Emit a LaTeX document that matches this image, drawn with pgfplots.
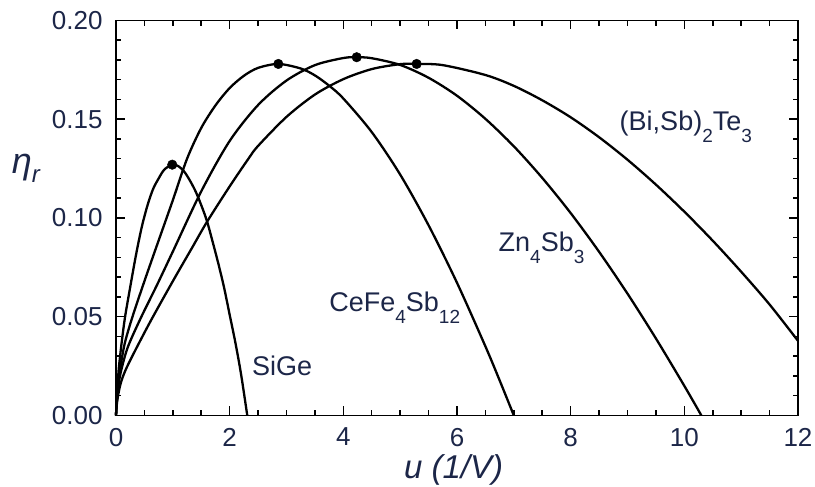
\documentclass[border=0pt]{standalone}
\usepackage{pgfplots}
\pgfplotsset{compat=1.18}
\usepackage{fontspec}
\setmainfont{Liberation Sans}
\definecolor{txt}{RGB}{28,38,72}
\newcommand{\lab}{\fontsize{27}{27}\selectfont}
\newcommand{\sub}[1]{\raisebox{-12pt}{\fontsize{19}{19}\selectfont #1}}
\begin{document}
\begin{tikzpicture}
\path[use as bounding box] (-116pt,-71.5pt) rectangle (699pt,415.5pt);
\begin{axis}[
  scale only axis, width=682pt, height=395pt,
  xmin=0, xmax=12, ymin=0, ymax=0.2,
  xtick={0,2,4,6,8,10,12}, ytick={0,0.05,0.1,0.15,0.2},
  minor x tick num=3, minor y tick num=4,
  tick align=inside,
  major tick length=9pt, minor tick length=5.5pt,
  every tick/.style={black, line width=1.5pt},
  axis line style={black, line width=1.8pt},
  /pgf/number format/assume math mode=true,
  tick label style={font=\fontsize{26}{26}\selectfont, text=txt},
  yticklabel={\pgfmathprintnumber[fixed,fixed zerofill,precision=2]{\tick}},
  yticklabel style={xshift=-10pt},
  xticklabel style={yshift=-9pt},
  clip=false,
]
% SiGe
\addplot[black, line width=2.3pt, smooth] coordinates {
(0,0) (0.02,0.012) (0.05,0.024) (0.1,0.037) (0.16,0.050) (0.25,0.065) (0.35,0.081)
(0.45,0.095) (0.55,0.106) (0.65,0.1145) (0.75,0.120) (0.85,0.1245) (0.99,0.127)
(1.1,0.1262) (1.2,0.1235) (1.3,0.119) (1.4,0.1135) (1.5,0.1065) (1.6,0.0985)
(1.7,0.0880) (1.8,0.0770) (1.9,0.0650) (2.0,0.051) (2.1,0.037) (2.2,0.021) (2.31,0)};
% CeFe4Sb12
\addplot[black, line width=2.3pt, smooth] coordinates {
(0,0) (0.02,0.010) (0.06,0.021) (0.15,0.036) (0.29,0.050) (0.5,0.068) (0.7,0.0845)
(1.0,0.109) (1.25,0.130) (1.5,0.1456) (1.75,0.157) (2.0,0.1658) (2.25,0.172)
(2.5,0.176) (2.856,0.178) (3.25,0.1757) (3.5,0.1722) (3.75,0.167) (4.0,0.1605)
(4.5,0.1435) (5.0,0.122) (5.5,0.0963) (6.0,0.0672) (6.5,0.035) (6.75,0.0178) (7.0,0)};
% Zn4Sb3
\addplot[black, line width=2.3pt, smooth] coordinates {
(0,0) (0.02,0.009) (0.07,0.020) (0.2,0.034) (0.43,0.049) (0.72,0.066) (1.0,0.083)
(1.5,0.1135) (2.0,0.139) (2.5,0.1572) (3.0,0.1696) (3.5,0.1774) (4.0,0.181)
(4.235,0.1814) (4.5,0.1809) (5.0,0.1775) (5.5,0.171) (6.0,0.1619) (6.5,0.1502)
(7.0,0.1363) (7.5,0.1203) (8.0,0.1025) (8.5,0.0829) (9.0,0.0617) (9.5,0.039)
(10.0,0.015) (10.3,0)};
% (Bi,Sb)2Te3
\addplot[black, line width=2.3pt, smooth] coordinates {
(0,0) (0.02,0.007) (0.08,0.016) (0.2,0.025) (0.575,0.046) (1.0,0.068) (1.34,0.085)
(1.6,0.098) (2.0,0.116) (2.33,0.130) (2.5,0.1365) (3.0,0.1512) (3.5,0.1625) (4.0,0.1703)
(4.5,0.1754) (5.0,0.1779) (5.29,0.178) (5.75,0.1774) (6.5,0.1724) (7.0,0.1669)
(7.5,0.1596) (8.0,0.151) (8.5,0.1409) (9.0,0.1295) (9.5,0.1169) (10.0,0.1032)
(10.5,0.0885) (11.0,0.0728) (11.5,0.0562) (12.0,0.0378)};
% maxima
\addplot[only marks, mark=*, mark size=4.8pt, black] coordinates {
(0.99,0.127) (2.856,0.178) (4.235,0.1814) (5.29,0.178)};
\node[anchor=base west, inner sep=0, text=txt, font=\lab] at (axis cs:2.39,0.0205) {SiGe};
\node[anchor=base west, inner sep=0, text=txt, font=\lab] at (axis cs:3.75,0.0526) {CeFe\sub{4}Sb\sub{12}};
\node[anchor=base west, inner sep=0, text=txt, font=\lab] at (axis cs:6.73,0.0828) {Zn\sub{4}Sb\sub{3}};
\node[anchor=base west, inner sep=0, text=txt, font=\lab] at (axis cs:8.86,0.1445) {(Bi,Sb)\sub{2}Te\sub{3}};
\node[text=txt, inner sep=0, anchor=west] at (rel axis cs:-0.153,0.627) {\fontsize{36}{36}\selectfont\itshape η\raisebox{-9pt}{\fontsize{24}{24}\selectfont r}};
\node[text=txt, inner sep=0] at (rel axis cs:0.495,0) [yshift=-54.5pt] {\fontsize{33}{33}\selectfont\itshape u (1/V)};
\end{axis}
\end{tikzpicture}
\end{document}
